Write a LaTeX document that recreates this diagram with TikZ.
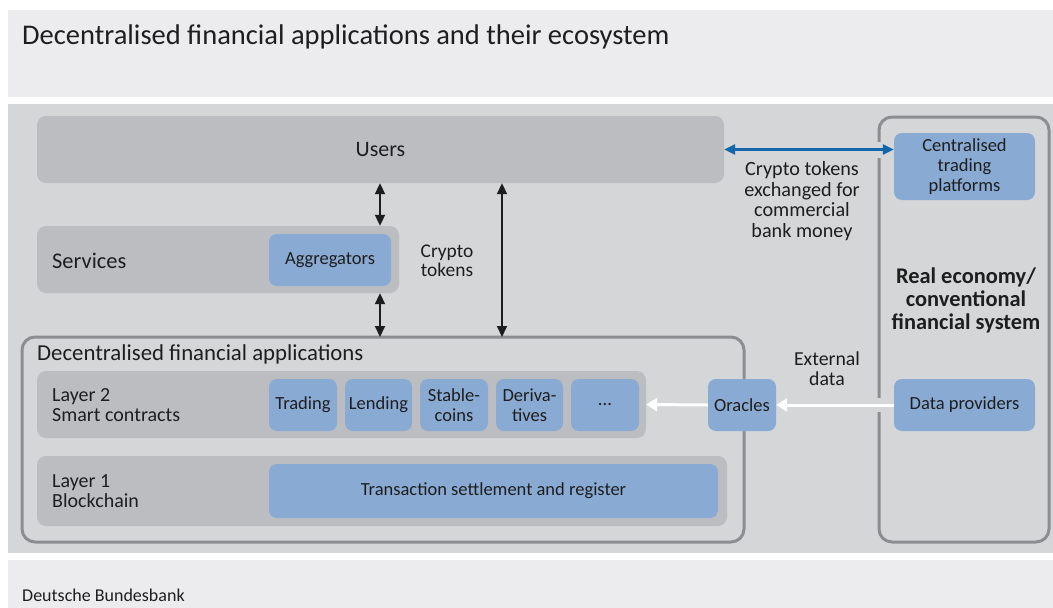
\documentclass[tikz,border=0pt]{standalone}
\usepackage{fontspec}
\setmainfont{Carlito}
\usetikzlibrary{arrows.meta}
\definecolor{panellight}{HTML}{ECECEE}
\definecolor{panelmain}{HTML}{D5D6D8}
\definecolor{greybox}{HTML}{BCBDC1}
\definecolor{bluebox}{HTML}{88AAD3}
\definecolor{frame}{HTML}{8C8D91}
\definecolor{txt}{HTML}{1E1E1E}
\definecolor{arrowblue}{HTML}{1466AA}
\tikzset{
  gbox/.style={fill=greybox, rounded corners=9pt, inner sep=0pt},
  bbox/.style={fill=bluebox, rounded corners=8pt, inner sep=0pt, text=txt, font=\fontsize{18.5}{20}\selectfont, align=center},
  frbox/.style={draw=frame, line width=3pt, rounded corners=13pt, inner sep=0pt},
  lbl/.style={text=txt, inner sep=0pt, font=\fontsize{20}{20}\selectfont, align=center},
  blackarrow/.style={draw=txt, line width=2pt, {Triangle[length=11pt,width=10pt]}-{Triangle[length=11pt,width=10pt]}},
  whitearrow/.style={draw=white, line width=3pt, -{Triangle[length=11pt,width=13pt]}},
  bluearrow/.style={draw=arrowblue, line width=2.5pt, {Triangle[length=11pt,width=10pt]}-{Triangle[length=11pt,width=10pt]}}
}
\begin{document}
\begin{tikzpicture}[x=1pt,y=-1pt]
\useasboundingbox (0,0) rectangle (1053,608);
% panels
\fill[panellight] (8,10) rectangle (1053,97);
\fill[panelmain] (8,104) rectangle (1053,553);
\fill[panellight] (8,560) rectangle (1053,608);
\node[anchor=west, text=txt, inner sep=0pt, font=\fontsize{28.5}{30}\selectfont] (title) at (22,37) {Decentralised financial applications and their ecosystem};
\node[anchor=west, text=txt, inner sep=0pt, font=\fontsize{18}{20}\selectfont] (source) at (22,595) {Deutsche Bundesbank};
% users and services
\node[gbox, minimum width=687pt, minimum height=67pt] (users) at (380.5,149.5) {};
\node[lbl, font=\fontsize{22}{24}\selectfont] (userslbl) at (users.center) {Users};
\node[gbox, minimum width=362pt, minimum height=67pt] (services) at (218,259.5) {};
\node[lbl, anchor=west, font=\fontsize{22.4}{24}\selectfont] (serviceslbl) at (52,261) {Services};
\node[bbox, minimum width=122pt, minimum height=52pt] (aggr) at (330,260) {Aggregators};
% decentralised financial applications
\node[frbox, minimum width=722pt, minimum height=205pt] (defi) at (383,439.5) {};
\node[lbl, anchor=west, font=\fontsize{22.8}{24}\selectfont] (defilbl) at (37,354) {Decentralised financial applications};
\node[gbox, minimum width=609pt, minimum height=67pt] (layer2) at (341.5,404.5) {};
\node[lbl, anchor=west, align=left] (layer2lbl) at (52,405) {Layer 2\\Smart contracts};
\node[bbox, minimum width=68pt, minimum height=52pt] (trading) at (303,405) {Trading};
\node[bbox, minimum width=67pt, minimum height=52pt] (lending) at (378.5,405) {Lending};
\node[bbox, minimum width=68pt, minimum height=52pt] (stable) at (454,405) {Stable-\\coins};
\node[bbox, minimum width=67pt, minimum height=52pt] (deriv) at (529.5,405) {Deriva-\\tives};
\node[bbox, minimum width=68pt, minimum height=52pt] (dots) at (605,405) {...};
\node[gbox, minimum width=690pt, minimum height=70pt] (layer1) at (382,491) {};
\node[lbl, anchor=west, align=left] (layer1lbl) at (52,491) {Layer 1\\Blockchain};
\node[bbox, minimum width=449pt, minimum height=54pt] (tsr) at (493.5,491) {Transaction settlement and register};
\node[bbox, minimum width=68pt, minimum height=52pt] (orc) at (742,405) {Oracles};
% real economy
\node[frbox, minimum width=170pt, minimum height=425pt] (real) at (964,329.5) {};
\node[bbox, minimum width=141pt, minimum height=67pt] (cen) at (964.5,166.5) {Centralised\\trading\\platforms};
\node[bbox, minimum width=141pt, minimum height=52pt] (dp) at (964.5,405) {Data providers};
\node[lbl, font=\fontsize{22.4}{23}\selectfont\bfseries] (reallbl) at (966,300) {Real economy/\\conventional\\financial system};
% connectors
\coordinate (a1) at (380,0);
\coordinate (a2) at (502,0);
\draw[blackarrow] (users.south -| a1) -- (services.north -| a1);
\draw[blackarrow] (services.south -| a1) -- ([yshift=-1.5pt]defi.north -| a1);
\draw[blackarrow] (users.south -| a2) -- ([yshift=-1.5pt]defi.north -| a2);
\node[lbl, font=\fontsize{19.4}{19}\selectfont] (cryptolbl) at (447,261) {Crypto\\tokens};
\draw[panelmain, line width=16pt] ([xshift=-8pt]users.east -| real.west) -- ([xshift=8pt]users.east -| real.west);
\draw[bluearrow] (users.east) -- (users.east -| cen.west);
\node[lbl, font=\fontsize{20.2}{20.5}\selectfont] (exchlbl) at (802,201) {Crypto tokens\\exchanged for\\commercial\\bank money};
\draw[panelmain, line width=14pt] ([xshift=-8pt]dp.west -| real.west) -- ([xshift=8pt]dp.west -| real.west);
\draw[whitearrow] (dp.west) -- (orc.east);
\draw[whitearrow] (orc.west) -- (layer2.east);
\node[lbl, font=\fontsize{19.8}{20}\selectfont] (extlbl) at (827,369) {External\\data};
\end{tikzpicture}
\end{document}
